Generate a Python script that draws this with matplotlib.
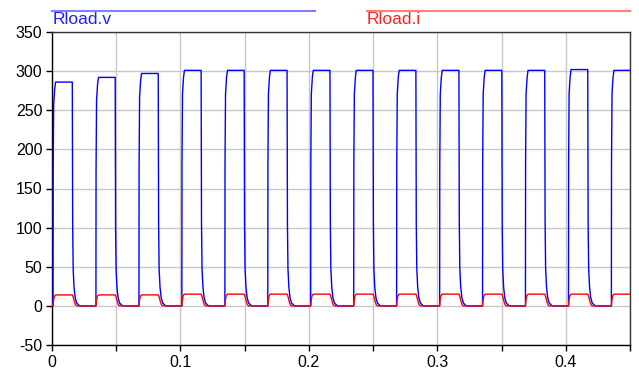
import numpy as np
import matplotlib
matplotlib.use("Agg")
import matplotlib.pyplot as plt

# ---- data ----
# pulse onset times (s)
pulse_onsets = [0.0008, 0.0342, 0.0677, 0.1011, 0.1346, 0.1680, 0.2014,
                0.2349, 0.2683, 0.3018, 0.3352, 0.3686, 0.4021, 0.4355]
# plateau value of Rload.v for each pulse
v_peaks = [286, 292, 297, 301, 301, 301, 301, 301, 301, 301, 301, 301, 302, 301]
# plateau value of Rload.i for each pulse
i_peaks = [14, 14, 14, 15, 15, 15, 15, 15, 15, 15, 15, 15, 15, 15]

# pulse shape (time offset in ms from onset, fraction of plateau)
v_shape_ms = [0.0, 0.1, 0.5, 1.3, 2.0, 15.0, 15.3, 15.7, 16.4, 17.3, 18.5, 20.8]
v_shape_frac = [0.0, 0.6, 0.9, 0.97, 1.0, 1.0, 0.35, 0.16, 0.08, 0.035, 0.012, 0.0]
i_shape_ms = [0.0, 0.4, 1.0, 1.8, 2.4, 15.0, 15.6, 16.5, 17.5, 18.5]
i_shape_frac = [0.0, 0.45, 0.85, 0.98, 1.0, 1.0, 0.85, 0.45, 0.1, 0.0]

t_end = 0.45
x_ticks = [0, 0.1, 0.2, 0.3, 0.4]
x_tick_labels = ["0", "0.1", "0.2", "0.3", "0.4"]
y_ticks = [-50, 0, 50, 100, 150, 200, 250, 300, 350]
y_tick_labels = ["-50", "0", "50", "100", "150", "200", "250", "300", "350"]


def build(onsets, peaks, shape_ms, shape_frac):
    ts = [0.0]
    vs = [0.0]
    for t0, p in zip(onsets, peaks):
        for dt, f in zip(shape_ms, shape_frac):
            t = t0 + dt / 1000.0
            if t <= t_end:
                ts.append(t)
                vs.append(p * f)
    ts.append(t_end)
    vs.append(vs[-1])
    return np.array(ts), np.array(vs)


tv, vv = build(pulse_onsets, v_peaks, v_shape_ms, v_shape_frac)
ti, vi = build(pulse_onsets, i_peaks, i_shape_ms, i_shape_frac)

plt.rcParams['font.family'] = ['Liberation Sans', 'DejaVu Sans']

fig = plt.figure(figsize=(6.39, 3.73), dpi=100)
ax = fig.add_axes([52 / 639, 1 - 345 / 373, (630 - 52) / 639, (345 - 32) / 373])

ax.plot(tv, vv, color="#0000ff", lw=1.0, zorder=3)
ax.plot(ti, vi, color="#ff0000", lw=1.0, zorder=3)

ax.set_xlim(0, t_end)
ax.set_ylim(-50, 350)
ax.set_xticks(x_ticks)
ax.set_xticklabels(x_tick_labels)
ax.set_xticks([0.05, 0.15, 0.25, 0.35, 0.45], minor=True)
ax.set_yticks(y_ticks)
ax.set_yticklabels(y_tick_labels)
ax.grid(True, which="both", color="#c8c8c8", lw=1.0, zorder=0)
ax.tick_params(axis="both", which="both", direction="out", length=4,
               width=1, labelsize=11.5, color="black", pad=3)
ax.tick_params(axis="y", which="both", right=False)
ax.tick_params(axis="x", which="both", top=False)
for s in ["left", "bottom"]:
    ax.spines[s].set_linewidth(1.0)
for s in ["top", "right"]:
    ax.spines[s].set_linewidth(1.0)
    ax.spines[s].set_color("#333333")

# legend above axes
fig.lines.append(plt.Line2D([52 / 639, 315 / 639], [1 - 11 / 373] * 2,
                            transform=fig.transFigure, color="#7f7fff", lw=1.5))
fig.lines.append(plt.Line2D([367 / 639, 630 / 639], [1 - 11 / 373] * 2,
                            transform=fig.transFigure, color="#ff7f7f", lw=1.5))
fig.text(53 / 639, 1 - 20 / 373, "Rload.v", color="#2020ff", fontsize=12.5,
         va="center", ha="left")
fig.text(367 / 639, 1 - 20 / 373, "Rload.i", color="#ff2020", fontsize=12.5,
         va="center", ha="left")

fig.savefig("out.png", dpi=100)
